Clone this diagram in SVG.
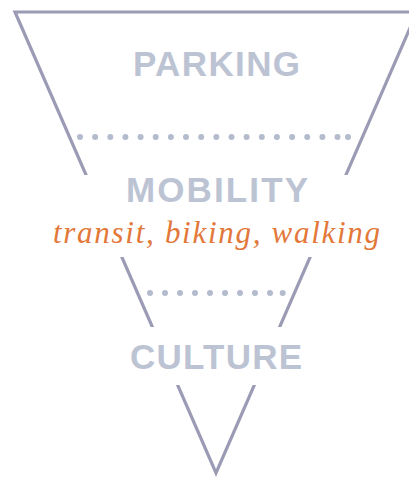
<svg xmlns="http://www.w3.org/2000/svg" width="409" height="478" viewBox="0 0 409 478">
  <style>
    .funnel { fill: none; stroke: #9c9bb5; stroke-width: 3.2; stroke-linejoin: miter; stroke-miterlimit: 10; }
    .label { font-family: "Liberation Sans", Arial, sans-serif; font-weight: bold; font-size: 35px; fill: #bcc3d3; text-anchor: middle; }
    .sub { font-family: "Liberation Serif", "Times New Roman", serif; font-style: italic; font-size: 31px; fill: #e2783a; text-anchor: middle; }
    .dot { fill: #b3bbcc; }
  </style>
  <defs>
    <clipPath id="gaps">
      <rect x="0" y="0" width="409" height="175"/>
      <rect x="0" y="257" width="409" height="70"/>
      <rect x="0" y="385" width="409" height="93"/>
    </clipPath>
  </defs>
  <g id="connectors">
    <path class="funnel" clip-path="url(#gaps)" d="M417,12 L15,12 L216,473 Z"/>
  </g>
  <g id="parking">
    <text class="label" x="216.5" y="76" textLength="167" lengthAdjust="spacing">PARKING</text>
  </g>
  <g id="divider1">
    <circle class="dot" cx="80" cy="137" r="3"/>
    <circle class="dot" cx="95.1" cy="137" r="3"/>
    <circle class="dot" cx="110.3" cy="137" r="3"/>
    <circle class="dot" cx="125.4" cy="137" r="3"/>
    <circle class="dot" cx="140.6" cy="137" r="3"/>
    <circle class="dot" cx="155.7" cy="137" r="3"/>
    <circle class="dot" cx="170.9" cy="137" r="3"/>
    <circle class="dot" cx="186" cy="137" r="3"/>
    <circle class="dot" cx="201.2" cy="137" r="3"/>
    <circle class="dot" cx="216.3" cy="137" r="3"/>
    <circle class="dot" cx="231.5" cy="137" r="3"/>
    <circle class="dot" cx="246.6" cy="137" r="3"/>
    <circle class="dot" cx="261.8" cy="137" r="3"/>
    <circle class="dot" cx="276.9" cy="137" r="3"/>
    <circle class="dot" cx="292.1" cy="137" r="3"/>
    <circle class="dot" cx="307.2" cy="137" r="3"/>
    <circle class="dot" cx="322.4" cy="137" r="3"/>
    <circle class="dot" cx="337.5" cy="137" r="3"/>
    <circle class="dot" cx="348" cy="137" r="3"/>
  </g>
  <g id="mobility">
    <text class="label" x="217" y="202" textLength="182" lengthAdjust="spacing">MOBILITY</text>
    <text class="sub" x="216.5" y="243" textLength="327" lengthAdjust="spacing">transit, biking, walking</text>
  </g>
  <g id="divider2">
    <circle class="dot" cx="150" cy="293" r="3"/>
    <circle class="dot" cx="165" cy="293" r="3"/>
    <circle class="dot" cx="180" cy="293" r="3"/>
    <circle class="dot" cx="195" cy="293" r="3"/>
    <circle class="dot" cx="210" cy="293" r="3"/>
    <circle class="dot" cx="225" cy="293" r="3"/>
    <circle class="dot" cx="240" cy="293" r="3"/>
    <circle class="dot" cx="255" cy="293" r="3"/>
    <circle class="dot" cx="270" cy="293" r="3"/>
    <circle class="dot" cx="282.7" cy="293" r="3"/>
  </g>
  <g id="culture">
    <text class="label" x="216" y="369" textLength="172" lengthAdjust="spacing">CULTURE</text>
  </g>
</svg>
